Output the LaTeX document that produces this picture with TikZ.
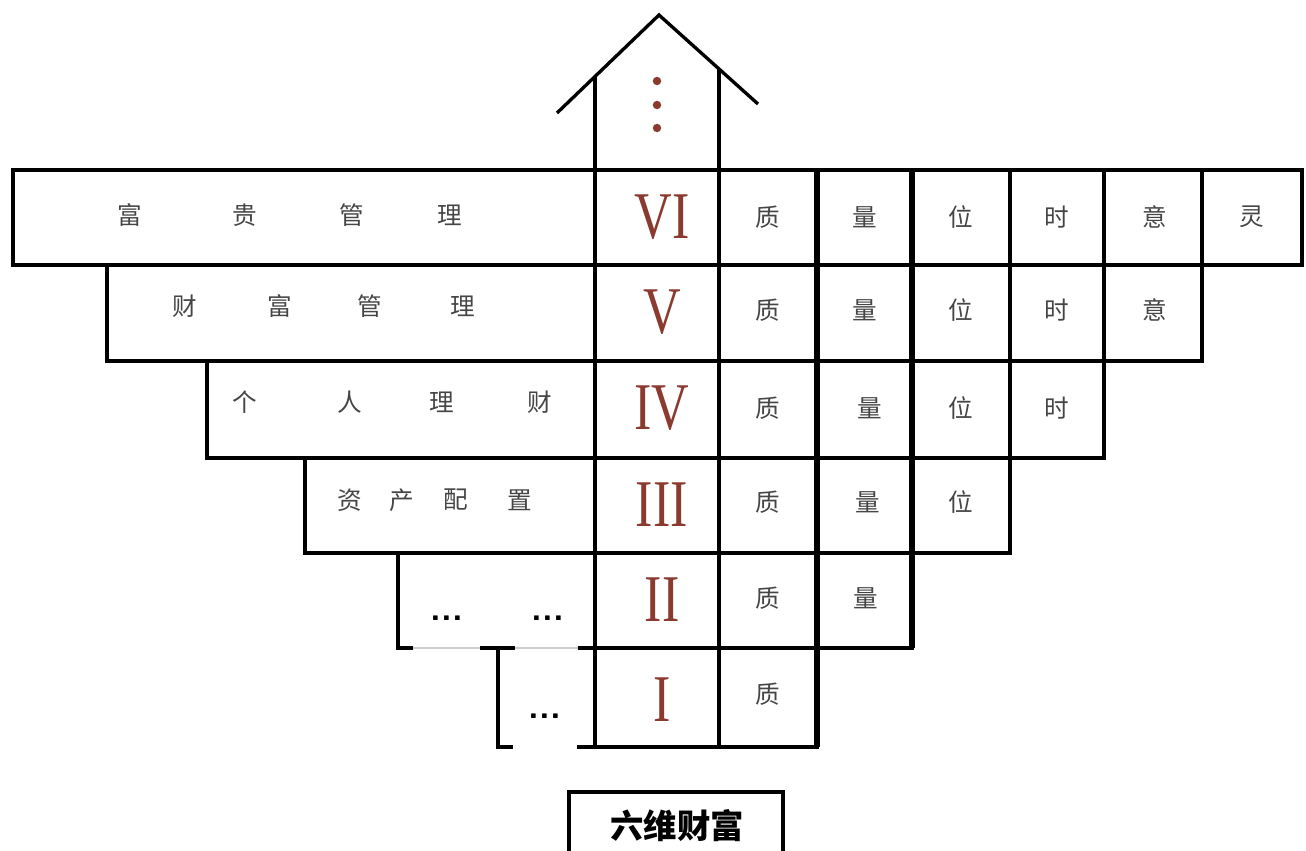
\documentclass[tikz,border=0pt]{standalone}
\usepackage{fontspec}
\setmainfont{Liberation Serif}
\newfontfamily\cjk{Noto Sans CJK SC}
\definecolor{numred}{HTML}{8B3A30}
\definecolor{chgray}{HTML}{454545}

\begin{document}
\begin{tikzpicture}[x=0.02cm,y=-0.02cm]
\tikzset{grid/.style={line width=1.9pt},
  rowline/.style={line width=2.2pt},
  edge/.style={line width=2.5pt,line join=miter},
  faint/.style={line width=1.2pt,gray!40},
  ch/.style={font=\cjk\fontsize{14}{14}\selectfont,text=chgray,inner sep=0pt},
  num/.style={font=\fontsize{38}{38}\selectfont,text=numred,inner sep=0pt},
  etc/.style={font=\sffamily\bfseries\fontsize{20}{20}\selectfont,inner sep=0pt},
  reddot/.style={circle,fill=numred,inner sep=0pt,minimum size=4.8pt}}
\useasboundingbox (0,0) rectangle (1306,851);

\draw[grid] (557,113) -- (659,15) -- (758,104);
\draw[grid] (595,76) -- (595,747);
\draw[grid] (719,69) -- (719,747);
\draw[edge,line width=3pt] (817,170) -- (817,747);
\draw[edge,line width=3pt] (912,170) -- (912,648);
\draw[grid] (1010,170) -- (1010,553);
\draw[grid] (1104,170) -- (1104,458);
\draw[grid] (1202,170) -- (1202,361);
\foreach \y/\l/\r in {265/107/1202,361/207/1104,458/305/1010,553/398/912,648/578/817}
  \draw[rowline] (\l,\y) -- (\r,\y);
\draw[edge] (577,747) -- (817,747) -- (817,648) -- (912,648) -- (912,553) -- (1010,553)
  -- (1010,458) -- (1104,458) -- (1104,361) -- (1202,361) -- (1202,265) -- (1302,265)
  -- (1302,170) -- (13,170) -- (13,265) -- (107,265) -- (107,361) -- (207,361)
  -- (207,458) -- (305,458) -- (305,553) -- (398,553) -- (398,648) -- (413,648);
\draw[edge] (480,648) -- (515,648);
\draw[edge] (515,648) -- (498,648) -- (498,747) -- (513,747);
\draw[faint] (413,648) -- (480,648) (515,648) -- (578,648);

\node[reddot] (d1) at (657,81) {};
\node[reddot] (d2) at (657,105) {};
\node[reddot] (d3) at (657,128) {};

\foreach \c/\x [count=\i] in {富/130,贵/245,管/352,理/450}
  \node[ch] (vi\i) at (\x,215) {\c};
\foreach \c/\x [count=\i] in {财/185,富/280,管/370,理/463}
  \node[ch] (v\i) at (\x,306) {\c};
\foreach \c/\x [count=\i] in {个/245,人/350,理/442,财/540}
  \node[ch] (iv\i) at (\x,402) {\c};
\foreach \c/\x [count=\i] in {资/350,产/402,配/456,置/520}
  \node[ch] (iii\i) at (\x,500) {\c};
\node[etc] (ii1) at (447,618) {...};
\node[etc] (ii2) at (548,618) {...};
\node[etc] (i1) at (545,716) {...};

\foreach \t/\y [count=\i] in {VI/217,V/312,IV/408,III/505,II/600,I/700}
  \node[num] (n\i) at (662,\y) {\scalebox{0.78}[1]{\t}};

\foreach \c/\x [count=\i] in {质/768,量/865,位/961,时/1057,意/1155,灵/1252}
  \node[ch] (r6c\i) at (\x,217) {\c};
\foreach \c/\x [count=\i] in {质/768,量/865,位/961,时/1057,意/1155}
  \node[ch] (r5c\i) at (\x,310) {\c};
\foreach \c/\x [count=\i] in {质/768,量/870,位/961,时/1057}
  \node[ch] (r4c\i) at (\x,408) {\c};
\foreach \c/\x [count=\i] in {质/768,量/868,位/961}
  \node[ch] (r3c\i) at (\x,502) {\c};
\foreach \c/\x [count=\i] in {质/768,量/866}
  \node[ch] (r2c\i) at (\x,598) {\c};
\node[ch] (r1c1) at (768,694) {质};

\draw[grid] (569,851) -- (569,792) -- (783,792) -- (783,851);
\node[font=\cjk\bfseries\fontsize{19}{19}\selectfont,inner sep=0pt] (title) at (677,826) {六维财富};
\end{tikzpicture}
\end{document}
